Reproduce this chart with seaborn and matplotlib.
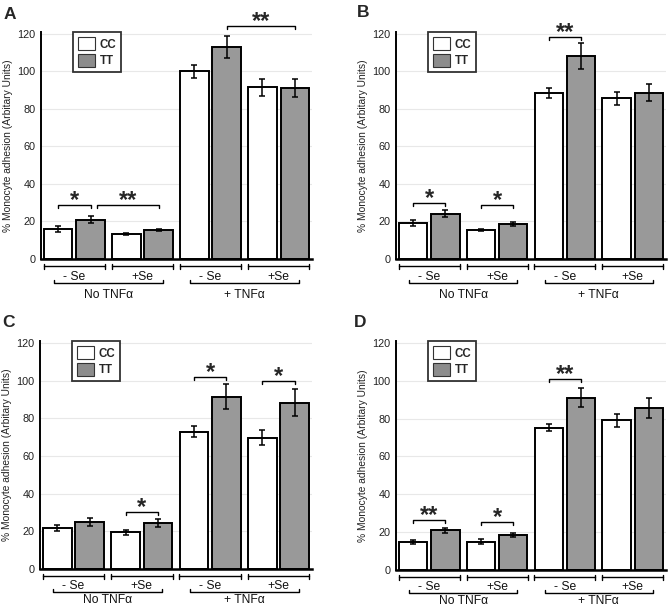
import numpy as np
import pandas as pd
import matplotlib
matplotlib.use('Agg')
import matplotlib.pyplot as plt
import matplotlib.transforms as mtransforms
from matplotlib.patches import Patch
import seaborn as sns

sns.set_theme(style='white')
plt.rcParams['font.family'] = ['Liberation Sans', 'DejaVu Sans']

# categories
groups = ['No TNF -Se', 'No TNF +Se', 'TNF -Se', 'TNF +Se']
genotypes = ['CC', 'TT']
se_labels = ['- Se', '+Se', '- Se', '+Se']
tnf_labels = ['No TNF\u03b1', '+ TNF\u03b1']
panel_names = ['A', 'B', 'C', 'D']
ylabel = '% Monocyte adhesion (Arbitary Units)'
yticks = [0, 20, 40, 60, 80, 100, 120]

# values (mean, error) per panel
cc_a = [16, 13.5, 100, 91.5]
cc_a_err = [1.8, 0.6, 3.6, 4.5]
tt_a = [21, 15.5, 113, 91]
tt_a_err = [2, 0.7, 5.7, 4.7]

cc_b = [19.3, 15.4, 88.5, 85.6]
cc_b_err = [1.7, 0.5, 2.5, 3.6]
tt_b = [24.2, 18.6, 108.3, 88.7]
tt_b_err = [2, 1, 6.8, 4.6]

cc_c = [21.8, 19.5, 72.9, 69.7]
cc_c_err = [1.8, 1.4, 3, 4]
tt_c = [24.9, 24.4, 91.5, 88.3]
tt_c_err = [2, 2.1, 6.5, 7]

cc_d = [14.9, 14.9, 75.2, 79.1]
cc_d_err = [1.2, 1.3, 2, 3.5]
tt_d = [20.9, 18.6, 91, 85.6]
tt_d_err = [1.5, 1, 5, 5.5]

# significance: (bar from, bar to, bracket height, label); bars numbered left to right
sig_a = [(0, 1, 29, '*'), (1, 3, 29, '**'), (5, 7, 124, '**')]
sig_b = [(0, 1, 29.8, '*'), (2, 3, 28.8, '*'), (4, 5, 118.3, '**')]
sig_c = [(2, 3, 30.2, '*'), (4, 5, 102, '*'), (6, 7, 99.6, '*')]
sig_d = [(0, 1, 26.2, '**'), (2, 3, 25.3, '*'), (4, 5, 100.8, '**')]

panels = [
    (cc_a, cc_a_err, tt_a, tt_a_err, sig_a),
    (cc_b, cc_b_err, tt_b, tt_b_err, sig_b),
    (cc_c, cc_c_err, tt_c, tt_c_err, sig_c),
    (cc_d, cc_d_err, tt_d, tt_d_err, sig_d),
]

W, H = 670, 609
# axes boxes in pixels: left, top, right, bottom
boxes = [(41, 32, 312, 259), (396, 32, 666, 259),
         (40, 341, 312, 569), (396, 341, 666, 570)]
letter_pos = [(4, 19), (357, 17), (2, 327), (354, 327)]
# pixel offsets below the axis: first bracket, Se label, second bracket, TNF label
under_top = (7, 18, 24, 36)
under_bottom = (7, 17, 23, 31)

colors = {'CC': 'white', 'TT': '#999999'}

fig = plt.figure(figsize=(W / 100, H / 100), dpi=100)

for k, (cc, cc_err, tt, tt_err, sig) in enumerate(panels):
    l, t, r, b = boxes[k]
    ax = fig.add_axes([l / W, 1 - b / H, (r - l) / W, (b - t) / H])

    df = pd.DataFrame({
        'group': groups * 2,
        'genotype': ['CC'] * 4 + ['TT'] * 4,
        'value': cc + tt,
    })
    sns.barplot(data=df, x='group', y='value', hue='genotype', order=groups,
                hue_order=genotypes, palette=colors, edgecolor='black',
                linewidth=1.4, width=0.95, gap=0.12, errorbar=None,
                legend=False, ax=ax)

    bars = sorted(ax.patches, key=lambda p: p.get_x())[:8]
    centers = np.array([p.get_x() + p.get_width() / 2 for p in bars])
    means = np.ravel(np.column_stack([cc, tt]))
    errs = np.ravel(np.column_stack([cc_err, tt_err]))
    ax.errorbar(centers, means, yerr=errs, fmt='none', ecolor='black',
                elinewidth=1.1, capsize=2, capthick=1.1, zorder=5)

    ax.set_xlim(-0.49, 3.49)
    ax.set_ylim(0, 121)
    ax.set_yticks(yticks)
    ax.tick_params(axis='y', length=0, pad=4, labelsize=7.8, labelcolor='#222222')
    ax.set_xticks([])
    ax.set_xlabel('')
    ax.set_ylabel(ylabel, fontsize=7.4, labelpad=3, color='#222222')
    ax.yaxis.grid(True, color='#e8e8e8', lw=0.8)
    ax.set_axisbelow(True)
    sns.despine(ax=ax)
    ax.spines['left'].set_linewidth(1.4)
    ax.spines['bottom'].set_linewidth(1.8)
    ax.spines['left'].set_color('black')
    ax.spines['bottom'].set_color('black')

    # significance brackets
    for i0, i1, y, txt in sig:
        x0 = centers[i0] + (0.09 if (i0 == 1 and i1 == 3) else 0)
        x1 = centers[i1]
        ax.plot([x0, x0, x1, x1], [y - 1.6, y, y, y - 1.6], color='black',
                lw=1.0, clip_on=False)
        ax.annotate(txt, xy=((x0 + x1) / 2, y), xytext=(0, -1.5),
                    textcoords='offset points', ha='center', va='baseline',
                    fontsize=17, fontweight='bold', annotation_clip=False)

    # group brackets under the axis
    tr = mtransforms.blended_transform_factory(ax.transData, ax.transAxes)
    hpx = b - t
    o1, o2, o3, o4 = under_top if k < 2 else under_bottom
    y1 = -o1 / hpx
    dy = 2.5 / hpx
    for g in range(4):
        xa, xb = g - 0.45, g + 0.45
        ax.plot([xa, xb], [y1, y1], color='black', lw=1.0, transform=tr, clip_on=False)
        for xe in (xa, xb):
            ax.plot([xe, xe], [y1 - dy, y1 + dy], color='black', lw=1.0,
                    transform=tr, clip_on=False)
        ax.text(g, -o2 / hpx, se_labels[g], transform=tr, ha='center',
                va='center', fontsize=8.7, color='#111111')
    y2 = -o3 / hpx
    for j, gc in enumerate([0.5, 2.5]):
        xa, xb = gc - 0.8, gc + 0.8
        ax.plot([xa, xa, xb, xb], [y2 + 3 / hpx, y2, y2, y2 + 3 / hpx],
                color='black', lw=1.0, transform=tr, clip_on=False)
        ax.text(gc, -o4 / hpx, tnf_labels[j], transform=tr, ha='center',
                va='center', fontsize=8.7, color='#111111')

    handles = [Patch(facecolor='white', edgecolor='#333333', lw=0.8),
               Patch(facecolor='#8c8c8c', edgecolor='#333333', lw=0.8)]
    leg = ax.legend(handles, genotypes, loc='upper left',
                    bbox_to_anchor=(32 / (r - l), 1.0), borderaxespad=0,
                    fancybox=False, frameon=True, handlelength=1.5,
                    handleheight=1.35, handletextpad=0.35, labelspacing=0.3,
                    borderpad=0.45, prop={'weight': 'bold', 'size': 8.3})
    leg.get_frame().set_edgecolor('black')
    leg.get_frame().set_linewidth(1.3)

    lx, ly = letter_pos[k]
    fig.text(lx / W, 1 - ly / H, panel_names[k], fontsize=12.5,
             fontweight='bold', va='baseline', ha='left')

fig.savefig('out.png', dpi=100)
